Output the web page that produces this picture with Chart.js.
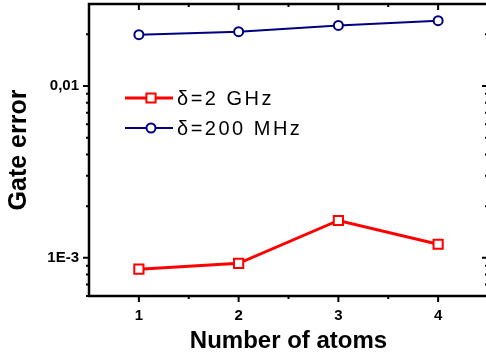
<!DOCTYPE html>
<html>
<head>
<meta charset="utf-8">
<script src="https://cdn.jsdelivr.net/npm/chart.js@4/dist/chart.umd.min.js"></script>
<style>
    html, body { margin: 0; padding: 0; background: #fff; overflow: hidden; }
</style>
</head>
<body>
<canvas id="gateChart" width="492" height="361"></canvas>
<script>
// data
const atoms = [1, 2, 3, 4];
const error2GHz = [0.00086, 0.00093, 0.00165, 0.0012];
const error200MHz = [0.0199, 0.0207, 0.0225, 0.024];
const seriesLabels = ["δ=2 GHz", "δ=200 MHz"];

const xTickValues = [1, 2, 3, 4];
const xMinorValues = [1.5, 2.5, 3.5];
const yTickValues = [0.001, 0.01];
const yTickLabels = ["1E-3", "0,01"];

const fontFamily = "'Liberation Sans', Arial, sans-serif";

// frame + tick marks (inward on top/right, outward on bottom/left)
const frameTicks = {
    id: "frameTicks",
    afterDraw(chart) {
        const ctx = chart.ctx;
        const a = chart.chartArea;
        const x = chart.scales.x;
        const y = chart.scales.y;
        ctx.save();
        ctx.strokeStyle = "#000";
        ctx.lineWidth = 2.5;
        ctx.strokeRect(a.left, a.top, a.right - a.left, a.bottom - a.top);

        ctx.lineWidth = 2;
        ctx.beginPath();
        const yTick = (v, len) => {
            const py = y.getPixelForValue(v);
            ctx.moveTo(a.left - len, py); ctx.lineTo(a.left, py);
            ctx.moveTo(a.right - len, py); ctx.lineTo(a.right, py);
        };
        const xTick = (v, len) => {
            const px = x.getPixelForValue(v);
            ctx.moveTo(px, a.bottom); ctx.lineTo(px, a.bottom + len);
            ctx.moveTo(px, a.top); ctx.lineTo(px, a.top + len);
        };
        yTickValues.forEach(v => yTick(v, 6));
        [1e-4, 1e-3, 1e-2].forEach(dec => {
            for (let m = 2; m <= 9; m++) {
                const v = m * dec;
                if (v > y.min && v < y.max) yTick(v, 3);
            }
        });
        xTickValues.forEach(v => xTick(v, 6));
        xMinorValues.forEach(v => xTick(v, 3));
        ctx.stroke();
        ctx.restore();
    }
};

// legend drawn inside the plot area
const innerLegend = {
    id: "innerLegend",
    afterDraw(chart) {
        const ctx = chart.ctx;
        chart.data.datasets.forEach((ds, i) => {
            const yy = 98 + i * 30;
            ctx.save();
            ctx.strokeStyle = ds.borderColor;
            ctx.lineWidth = ds.borderWidth;
            ctx.beginPath();
            ctx.moveTo(125, yy);
            ctx.lineTo(173, yy);
            ctx.stroke();
            ctx.fillStyle = ds.pointBackgroundColor;
            ctx.strokeStyle = ds.pointBorderColor;
            ctx.lineWidth = ds.pointBorderWidth;
            Chart.helpers.drawPoint(ctx, {
                pointStyle: ds.pointStyle,
                radius: ds.pointRadius,
                rotation: 0,
                borderWidth: ds.pointBorderWidth
            }, 151, yy);
            ctx.fillStyle = "#000";
            ctx.font = "20px " + fontFamily;
            ctx.letterSpacing = "2.5px";
            ctx.textAlign = "left";
            ctx.textBaseline = "middle";
            ctx.fillText(ds.label, 177, yy + 1);
            ctx.restore();
        });
    }
};

const ctx = document.getElementById("gateChart").getContext("2d");
const gateChart = new Chart(ctx, {
    type: "line",
    data: {
        datasets: [{
            label: seriesLabels[0],
            data: atoms.map((a, i) => ({ x: a, y: error2GHz[i] })),
            borderColor: "#ff0000",
            borderWidth: 3,
            pointStyle: "rect",
            pointRadius: 6.5,
            pointBorderWidth: 2,
            pointBackgroundColor: "#fff",
            pointBorderColor: "#ff0000"
        }, {
            label: seriesLabels[1],
            data: atoms.map((a, i) => ({ x: a, y: error200MHz[i] })),
            borderColor: "#000080",
            borderWidth: 2,
            pointStyle: "circle",
            pointRadius: 4.5,
            pointBorderWidth: 2,
            pointBackgroundColor: "#fff",
            pointBorderColor: "#000080"
        }]
    },
    options: {
        responsive: false,
        animation: false,
        layout: { padding: 0, autoPadding: false },
        plugins: {
            legend: { display: false },
            tooltip: { enabled: false }
        },
        scales: {
            x: {
                type: "linear",
                min: 0.5,
                max: 4.5,
                afterBuildTicks: s => { s.ticks = xTickValues.map(v => ({ value: v })); },
                afterFit: s => { s.height = 65; s.paddingLeft = 0; s.paddingRight = 4; },
                ticks: {
                    autoSkip: false,
                    color: "#000",
                    padding: 11,
                    font: { family: fontFamily, size: 15, weight: "bold" }
                },
                grid: { display: false, drawTicks: false },
                border: { display: false },
                title: {
                    display: true,
                    text: "Number of atoms",
                    color: "#000",
                    padding: { top: 0, bottom: 5 },
                    font: { family: fontFamily, size: 24, weight: "bold" }
                }
            },
            y: {
                type: "logarithmic",
                min: 0.0006,
                max: 0.03,
                afterBuildTicks: s => { s.ticks = yTickValues.map(v => ({ value: v })); },
                afterFit: s => { s.width = 89; s.paddingTop = 4; s.paddingBottom = 0; },
                ticks: {
                    autoSkip: false,
                    color: "#000",
                    padding: 10,
                    font: { family: fontFamily, size: 15, weight: "bold" },
                    callback: (v, i) => yTickLabels[i]
                },
                grid: { display: false, drawTicks: false },
                border: { display: false },
                title: {
                    display: true,
                    text: "Gate error",
                    color: "#000",
                    padding: { top: 4, bottom: 0 },
                    font: { family: fontFamily, size: 25, weight: "bold" }
                }
            }
        }
    },
    plugins: [frameTicks, innerLegend]
});
</script>
</body>
</html>
